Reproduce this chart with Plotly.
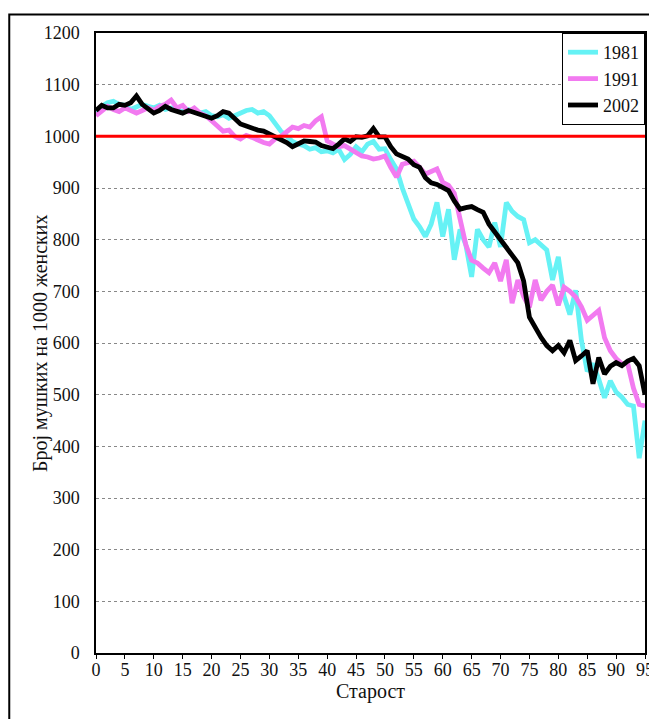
import plotly.graph_objects as go

ages = list(range(96))

sr_1981 = [
    1045, 1058, 1065, 1068, 1062, 1060, 1052, 1058, 1062, 1058,
    1055, 1060, 1052, 1055, 1050, 1048, 1052, 1048, 1045, 1048,
    1040, 1038, 1042, 1035, 1040, 1045, 1050, 1052, 1045, 1048,
    1040, 1025, 1010, 1000, 990, 985, 982, 975, 978, 970,
    972, 968, 975, 955, 965, 980, 970, 985, 990, 975,
    976, 955, 937, 900, 872, 840, 825, 806, 830, 872,
    806, 859, 761, 820, 790, 728, 820, 800, 786, 833,
    786, 872, 855, 845, 839, 794, 800, 790, 780, 722,
    767, 690, 655, 702, 605, 545, 560, 530, 494, 527,
    505, 495, 481, 478, 377, 450,
]

sr_1991 = [
    1040, 1050, 1058, 1052, 1048, 1055, 1050, 1045, 1050, 1055,
    1050, 1058, 1062, 1070, 1055, 1060, 1048, 1055, 1045, 1040,
    1030, 1020, 1010, 1012, 1000, 995, 1002, 998, 992, 988,
    985, 995, 1000, 1008, 1018, 1015, 1021, 1018, 1030, 1038,
    991, 985, 980, 982, 975, 970, 962, 960, 956, 958,
    962, 940, 921, 946, 950, 952, 940, 927, 932, 937,
    911, 905, 890, 840, 790, 760, 755, 745, 736, 755,
    720, 761, 677, 722, 690, 669, 722, 683, 700, 712,
    673, 708, 700, 689, 670, 644, 655, 663, 610, 585,
    570, 560, 560, 513, 481, 478,
]

sr_2002 = [
    1050, 1060, 1055, 1055, 1062, 1060, 1065, 1078, 1062, 1052,
    1045, 1050, 1058, 1052, 1048, 1045, 1050, 1046, 1042, 1040,
    1035, 1040, 1048, 1045, 1035, 1024, 1020, 1015, 1012, 1010,
    1005, 1000, 995, 988, 980, 985, 991, 990, 989, 982,
    980, 976, 985, 995, 990, 999, 998, 1001, 1015, 999,
    999, 980, 966, 960, 956, 945, 940, 920, 910, 907,
    902, 895, 875, 859, 862, 864, 858, 853, 830, 814,
    800, 786, 770, 755, 720, 650, 630, 611, 595, 585,
    595, 581, 605, 566, 575, 585, 521, 572, 540, 555,
    562, 556, 565, 570, 556, 500,
]

series = [
    ("1981", sr_1981, "#66F2F5"),
    ("1991", sr_1991, "#F27AF0"),
    ("2002", sr_2002, "#000000"),
]

serif = "Liberation Serif, Times New Roman, serif"

fig = go.Figure()
for name, vals, color in series:
    fig.add_trace(go.Scatter(x=ages, y=vals, mode="lines", name=name,
                             line=dict(color=color, width=4.8)))

# reference line at 1000
fig.add_shape(type="line", xref="paper", yref="y", x0=0, x1=1, y0=1000, y1=1000,
              line=dict(color="#FF0000", width=3), layer="above")
# outer frame
fig.add_shape(type="rect", xref="paper", yref="paper",
              x0=-0.158, x1=1.013, y0=-0.14, y1=1.030,
              line=dict(color="black", width=2))
# y title as annotation so it sits where the original has it
fig.add_annotation(text="Број мушких на 1000 женских", xref="paper", yref="paper",
                   x=-0.102, y=0.5, xanchor="center", yanchor="middle",
                   textangle=-90, showarrow=False,
                   font=dict(family=serif, size=20))

# page body has an 8px margin, so the figure is a bit smaller than the window
fig.update_layout(
    width=649, height=711,
    margin=dict(l=88, r=12, t=25, b=66, autoexpand=False),
    paper_bgcolor="white", plot_bgcolor="white",
    font=dict(family=serif, size=18, color="#111"),
    showlegend=True,
    legend=dict(x=1, y=1, xanchor="right", yanchor="top",
                bordercolor="black", borderwidth=1, bgcolor="white",
                font=dict(family=serif, size=18), itemwidth=30,
                entrywidth=58, entrywidthmode="pixels",
                tracegroupgap=0),
)
fig.update_xaxes(
    range=[0, 95], tickmode="linear", tick0=0, dtick=5,
    showgrid=False, zeroline=False, automargin=False,
    showline=True, linecolor="black", linewidth=1.5, mirror=True,
    ticks="outside", ticklen=4, tickcolor="black", ticklabelstandoff=-4,
    title=dict(text="Старост", font=dict(family=serif, size=20), standoff=5),
)
fig.update_yaxes(
    range=[0, 1200], tickmode="linear", tick0=0, dtick=100,
    showgrid=True, gridcolor="#888", griddash="dot", gridwidth=1.2,
    zeroline=False, automargin=False,
    showline=True, linecolor="black", linewidth=1.5, mirror=True,
    ticks="", ticklabelstandoff=11,
)

fig.write_html("out.html")
